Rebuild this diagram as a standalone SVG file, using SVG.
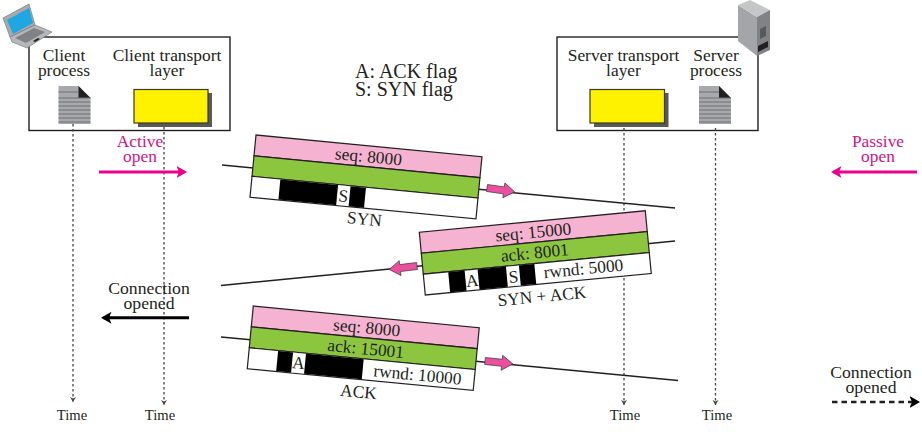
<svg xmlns="http://www.w3.org/2000/svg" width="922" height="432" viewBox="0 0 922 432">
<defs>
<style>
text{font-family:"Liberation Serif","Times New Roman",serif;fill:#231f20;text-anchor:middle}
.f17{font-size:17.4px}
.f18{font-size:17.7px}
.f20{font-size:20px;text-anchor:start}
.f15{font-size:14.6px}
.mg{fill:#d6127f}
.box{fill:#fff;stroke:#231f20;stroke-width:1.4}
.seq{stroke:#231f20;stroke-width:1.5;fill:none}
.pink{fill:#f6b3d1;stroke:#231f20;stroke-width:1.2}
.green{fill:#8cc63f;stroke:#231f20;stroke-width:1.2}
.white{fill:#fff;stroke:#231f20;stroke-width:1.2}
.blk{fill:#000}
.flag{fill:#fff}
.time{stroke:#444;stroke-width:1.3;stroke-dasharray:2.5 2.5;fill:none}
.parrow{fill:#ec4f9e;stroke:#3a3a3a;stroke-width:.7}
.yel{fill:#fff200;stroke:#3a3a20;stroke-width:1.2}
.shadow{fill:#58595b}
.docb{fill:#a7a9ac}
.docl{stroke:#6d6e71;stroke-width:1}
</style>
<marker id="th" markerWidth="7" markerHeight="7" refX="5" refY="3" orient="auto" markerUnits="userSpaceOnUse"><path d="M0,0L5,3L0,6L1.5,3Z" fill="#444"/></marker>
<marker id="mgh" markerWidth="12" markerHeight="14" refX="8" refY="6.500" orient="auto" markerUnits="userSpaceOnUse"><path d="M0,0.500L10.500,6.500L0,12.500L2.500,6.500Z" fill="#ec008c"/></marker>
<marker id="bh" markerWidth="12" markerHeight="14" refX="8" refY="6.500" orient="auto" markerUnits="userSpaceOnUse"><path d="M0,0.500L10.500,6.500L0,12.500L2.500,6.500Z" fill="#000"/></marker>
<g id="doc">
<path class="docb" d="M0,0H20L32,12V38H0Z"/>
<path d="M20,0L32,12H20Z" fill="#231f20"/>
<path class="docl" d="M0,6H20M0,12H32M0,16H32M0,20H32M0,24H32M0,28H32M0,32H32M0,36H32"/>
</g>
<path id="parr" class="parrow" d="M0,-3.500H17V-7.500L28,0L17,7.500V3.500H0Z"/>
</defs>
<rect width="922" height="432" fill="#fff"/>

<g id="client-box">
<rect class="box" x="29" y="37" width="201" height="93.500"/>
</g>
<g id="server-box">
<rect class="box" x="557" y="37" width="201" height="93.500"/>
</g>

<g id="connectors">
<path class="time" d="M73,124V402" marker-end="url(#th)"/>
<path class="time" d="M164,127V405" marker-end="url(#th)"/>
<path class="time" d="M624,128V405" marker-end="url(#th)"/>
<path class="time" d="M715.500,128V405" marker-end="url(#th)"/>
<path class="seq" d="M222,165L675,208"/>
<path class="seq" d="M675,241L221,285.500"/>
<path class="seq" d="M221,337L678,380.500"/>
<path d="M99,172H184.500" stroke="#ec008c" stroke-width="3" marker-end="url(#mgh)"/>
<path d="M917,172H833.500" stroke="#ec008c" stroke-width="3" marker-end="url(#mgh)"/>
<path d="M189,317.700H103.500" stroke="#000" stroke-width="3" marker-end="url(#bh)"/>
<path d="M832,402H917.500" stroke="#231f20" stroke-width="2.400" stroke-dasharray="5.500 4" marker-end="url(#bh)"/>
</g>

<g id="client-process">
<text class="f17" x="64" y="61">Client</text>
<text class="f17" x="64" y="76">process</text>
<use href="#doc" x="58.500" y="86"/>
</g>
<g id="client-transport">
<text class="f17" x="167" y="61">Client transport</text>
<text class="f17" x="167" y="76">layer</text>
<rect class="shadow" x="138" y="93" width="74" height="34"/>
<rect class="yel" x="134" y="89.500" width="74" height="33.500"/>
</g>
<g id="server-transport">
<text class="f17" x="623.500" y="61">Server transport</text>
<text class="f17" x="623.500" y="76">layer</text>
<rect class="shadow" x="594" y="93" width="74.500" height="34"/>
<rect class="yel" x="590" y="89.500" width="74.500" height="33.500"/>
</g>
<g id="server-process">
<text class="f17" x="716" y="61">Server</text>
<text class="f17" x="716" y="76">process</text>
<use href="#doc" x="699" y="86"/>
</g>

<g id="laptop">
<path d="M3,18L29,4L35,25L10,37Z" fill="#a7a9ac" stroke="#6d6e71" stroke-width=".6"/>
<path d="M7,20L29,8L33,23L13,34Z" fill="#1ea7e1"/>
<path d="M10,37L35,25L52,32L27,48L12,42Z" fill="#b5b7ba" stroke="#6d6e71" stroke-width=".6"/>
<path d="M15,38L34,28L45,32L26,43Z" fill="#808285"/>
<path d="M33,41L38,38L40,39L35,42Z" fill="#231f20"/>
</g>
<g id="server">
<path d="M738,5L757,17V56L738,41Z" fill="#a3a5a8"/>
<path d="M738,5L750,0L770,10L757,17Z" fill="#c4c6c8"/>
<path d="M757,17L770,10V50L757,56Z" fill="#808285"/>
<path d="M758,46L768,41V47L758,52Z" fill="#231f20"/>
<path d="M760,29L766,26V36L760,39Z" fill="#58595b"/>
</g>

<g id="legend">
<text class="f20" x="355" y="78">A: ACK flag</text>
<text class="f20" x="355" y="96">S: SYN flag</text>
</g>
<g id="active-open">
<text class="f17 mg" x="140" y="147">Active</text>
<text class="f17 mg" x="140" y="162">open</text>
</g>
<g id="passive-open">
<text class="f17 mg" x="878" y="147">Passive</text>
<text class="f17 mg" x="878" y="162">open</text>
</g>
<g id="connection-opened-client">
<text class="f18" x="149" y="294">Connection</text>
<text class="f18" x="149" y="309">opened</text>
</g>
<g id="connection-opened-server">
<text class="f18" x="871" y="378">Connection</text>
<text class="f18" x="871" y="393">opened</text>
</g>
<g id="time-labels">
<text class="f15" x="72" y="420">Time</text>
<text class="f15" x="160" y="420">Time</text>
<text class="f15" x="625" y="420">Time</text>
<text class="f15" x="717" y="420">Time</text>
</g>

<g id="segment-syn" transform="translate(256,135) rotate(5.500)">
<rect class="pink" x="0" y="0" width="227" height="21"/>
<rect class="green" x="0" y="21" width="227" height="20.500"/>
<rect class="white" x="0" y="41.500" width="227" height="21"/>
<rect class="blk" x="28.500" y="42" width="86" height="20"/>
<rect class="flag" x="86.500" y="42" width="12.500" height="20"/>
<text class="f17" x="92.700" y="58">S</text>
<text class="f17" x="114" y="16.500">seq: 8000</text>
<text class="f17" x="116" y="79">SYN</text>
</g>
<g id="segment-syn-ack" transform="translate(419.300,232.300) rotate(-5.450)">
<rect class="pink" x="0" y="0" width="227" height="21"/>
<rect class="green" x="0" y="21" width="227" height="21"/>
<rect class="white" x="0" y="42" width="227" height="21"/>
<rect class="blk" x="25" y="42.500" width="86.500" height="20"/>
<rect class="flag" x="41.500" y="42.500" width="13" height="20"/>
<rect class="flag" x="83" y="42.500" width="13" height="20"/>
<text class="f17" x="48" y="59">A</text>
<text class="f17" x="89.500" y="59">S</text>
<text class="f17" x="113.500" y="16.500">seq: 15000</text>
<text class="f17" x="113" y="37">ack: 8001</text>
<text class="f17" x="160" y="57.500">rwnd: 5000</text>
<text class="f17" x="116" y="81">SYN + ACK</text>
</g>
<g id="segment-ack" transform="translate(253.300,306) rotate(5.500)">
<rect class="pink" x="0" y="0" width="227" height="21"/>
<rect class="green" x="0" y="21" width="227" height="21"/>
<rect class="white" x="0" y="42" width="227" height="21"/>
<rect class="blk" x="29" y="42.500" width="86" height="20"/>
<rect class="flag" x="44" y="42.500" width="13" height="20"/>
<text class="f17" x="50.500" y="58">A</text>
<text class="f17" x="115" y="16.500">seq: 8000</text>
<text class="f17" x="116" y="37.500">ack: 15001</text>
<text class="f17" x="170" y="58.500">rwnd: 10000</text>
<text class="f17" x="113" y="81">ACK</text>
</g>

<g id="flow-arrows">
<use href="#parr" transform="translate(487,188) rotate(8)"/>
<use href="#parr" transform="translate(417,266) rotate(173)"/>
<use href="#parr" transform="translate(485,361) rotate(6)"/>
</g>
</svg>
